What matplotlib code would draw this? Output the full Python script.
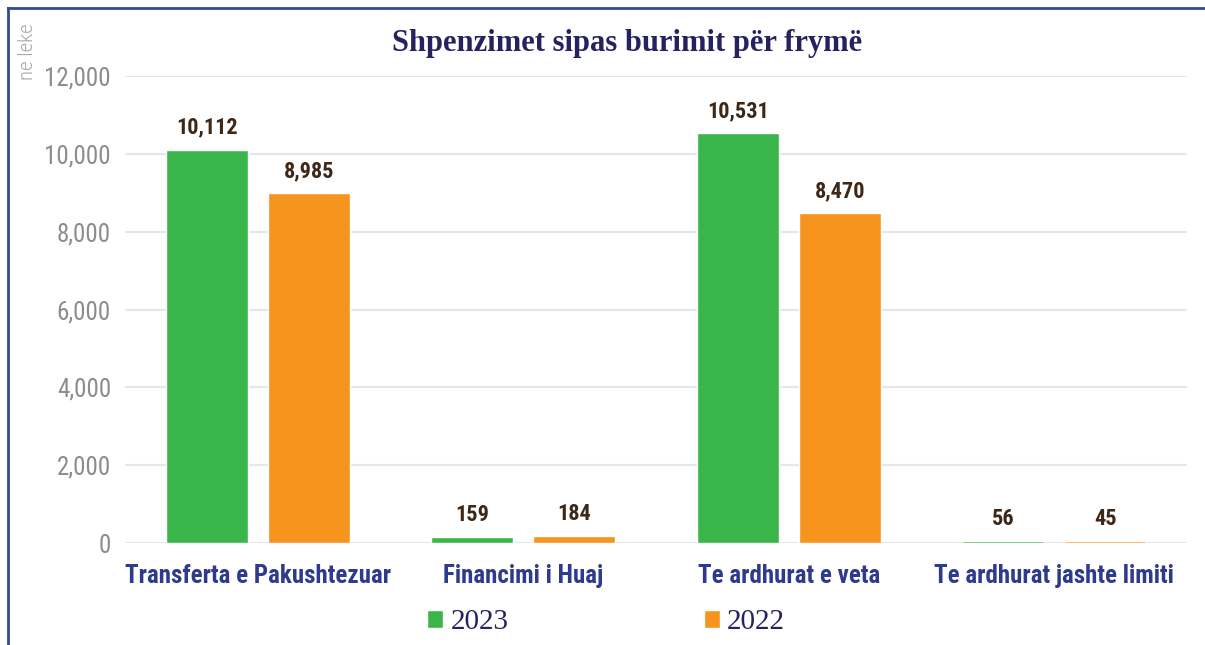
import matplotlib.pyplot as plt
import numpy as np
from matplotlib.lines import Line2D

categories = ["Transferta e Pakushtezuar", "Financimi i Huaj", "Te ardhurat e veta", "Te ardhurat jashte limiti"]
values_2023 = [10112, 159, 10531, 56]
values_2022 = [8985, 184, 8470, 45]
series_names = ["2023", "2022"]
yticks = [0, 2000, 4000, 6000, 8000, 10000, 12000]

green = '#3ab54a'
orange = '#f7941d'
navy = '#2e3a8c'
brown = '#3d2817'
narrow = ['Roboto Condensed', 'Archivo Narrow', 'Liberation Sans Narrow', 'DejaVu Sans']
serif = ['Liberation Serif', 'DejaVu Serif']

fig = plt.figure(figsize=(12.05, 6.45), dpi=100)
ax = fig.add_axes([0.1037, 0.158, 0.8813, 0.724])

x = np.arange(len(categories))
w = 0.31
off = 0.192
b1 = ax.bar(x - off, values_2023, w, color=green, edgecolor='white', linewidth=1, label=series_names[0], zorder=3)
b2 = ax.bar(x + off, values_2022, w, color=orange, edgecolor='white', linewidth=1, label=series_names[1], zorder=3)

for bars in (b1, b2):
    for b in bars:
        ax.annotate(f"{int(b.get_height()):,}", (b.get_x() + b.get_width() / 2, b.get_height()),
                    xytext=(0, 8), textcoords='offset points', ha='center', va='bottom',
                    fontsize=16, fontweight='bold', color=brown, family=narrow)

ax.set_xlim(-0.5, 3.5)
ax.set_ylim(0, 12000)
ax.set_yticks(yticks)
ax.set_yticklabels([f"{v:,}" for v in yticks], fontsize=18, color='#8c8c8c', family=narrow)
ax.set_xticks(x)
ax.set_xticklabels(categories, fontsize=18, fontweight='bold', color=navy, family=narrow)
ax.tick_params(length=0, axis='y', pad=10)
ax.tick_params(length=0, axis='x', pad=15)
ax.grid(axis='y', color='#e6e6ee', linewidth=1.5, zorder=0)
for s in ax.spines.values():
    s.set_visible(False)

fig.text(0.52, 0.933, "Shpenzimet sipas burimit për frymë", ha='center', va='center',
         fontsize=22, fontweight='bold', color='#24235f', family=serif)
fig.text(0.023, 1 - 52 / 645, "ne leke", rotation=90, ha='center', va='center',
         fontsize=15, fontweight='light', color='#a8a8a8', family=narrow)

leg = fig.legend(handles=[b1, b2], loc='center', bbox_to_anchor=(0.503, 0.035), ncol=2, frameon=False,
                 handlelength=0.55, handleheight=0.55, handletextpad=0.25, columnspacing=6.7,
                 prop={'family': serif, 'size': 21})
for t in leg.get_texts():
    t.set_color('#24235f')

# blue frame on top and left
fig.add_artist(Line2D([8 / 1205, 1], [1 - 8 / 645, 1 - 8 / 645], transform=fig.transFigure, color='#2e4a9a', linewidth=2))
fig.add_artist(Line2D([8 / 1205, 8 / 1205], [0, 1 - 8 / 645], transform=fig.transFigure, color='#2e4a9a', linewidth=2))

fig.savefig('out.png', dpi=100)
